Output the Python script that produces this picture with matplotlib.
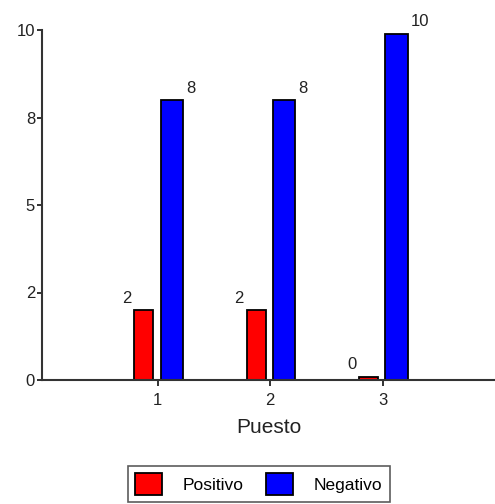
import numpy as np
import matplotlib.pyplot as plt

plt.rcParams['font.family'] = ['Liberation Sans', 'DejaVu Sans']

# Data
puestos = [1, 2, 3]
positivo = [2.0, 2.0, 0.1]
negativo = [8.0, 8.0, 9.9]
ytick_vals = [0, 2.5, 5, 7.5, 10]
ytick_labels = ['0', '2', '5', '8', '10']

fig = plt.figure(figsize=(4.95, 5.04), dpi=100)
ax = fig.add_axes([42 / 495, 124 / 504, 453 / 495, 350 / 504])

x = np.array(puestos, dtype=float)
b1 = ax.bar(x - 0.125, positivo, width=0.17, color='#ff0000', edgecolor='black',
            linewidth=1.3, label='Positivo')
b2 = ax.bar(x + 0.125, negativo, width=0.2, color='#0000ff', edgecolor='black',
            linewidth=1.3, label='Negativo')

# value labels: red ones to the upper left, blue ones to the upper right
for rect, v in zip(b1, positivo):
    ax.annotate('%.0f' % v, (rect.get_x(), rect.get_height()),
                xytext=(-2, 3), textcoords='offset points',
                ha='right', va='bottom', fontsize=12, color='#222222')
for rect, v in zip(b2, negativo):
    ax.annotate('%.0f' % v, (rect.get_x() + rect.get_width(), rect.get_height()),
                xytext=(2, 3), textcoords='offset points',
                ha='left', va='bottom', fontsize=12, color='#222222')

ax.set_xlim(-0.03, 4.0)
ax.set_ylim(0, 10)
ax.set_xticks(puestos)
ax.set_yticks(ytick_vals)
ax.set_yticklabels(ytick_labels)
ax.tick_params(labelsize=12, colors='#222222', width=1.3)
ax.tick_params(axis='x', length=4.5, pad=5)
ax.tick_params(axis='y', length=3.5, pad=1.5)
ax.set_xlabel('Puesto', fontsize=15, color='#222222', labelpad=7)

for s in ['top', 'right']:
    ax.spines[s].set_visible(False)
for s in ['left', 'bottom']:
    ax.spines[s].set_linewidth(1.5)
    ax.spines[s].set_color('#333333')

leg = fig.legend(handles=[b1, b2], loc='upper center', bbox_to_anchor=(0.523, 0.0754),
                 ncol=2, fontsize=12.5, frameon=True, fancybox=False,
                 handlelength=1.55, handleheight=1.55, handletextpad=1.2,
                 columnspacing=1.3, borderpad=0.4, borderaxespad=0)
leg.get_frame().set_edgecolor('#333333')
leg.get_frame().set_linewidth(1.2)

fig.savefig('out.png', dpi=100)
